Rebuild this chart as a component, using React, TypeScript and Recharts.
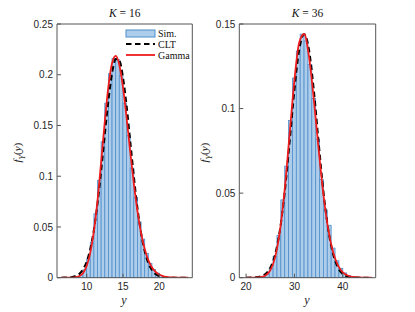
import React from "react";
import { ComposedChart, Bar, Line, XAxis, YAxis } from "recharts";

// K = 16 panel
const leftBins = [7.25, 7.75, 8.25, 8.75, 9.25, 9.75, 10.25, 10.75, 11.25, 11.75, 12.25, 12.75, 13.25, 13.75, 14.25, 14.75, 15.25, 15.75, 16.25, 16.75, 17.25, 17.75, 18.25, 18.75, 19.25, 19.75, 20.25, 20.75, 21.25];
const leftSim = [0, 0.0001, 0.0003, 0.001, 0.003, 0.0078, 0.018, 0.035, 0.063, 0.096, 0.134, 0.172, 0.201, 0.216, 0.215, 0.199, 0.172, 0.14, 0.108, 0.079, 0.055, 0.038, 0.024, 0.014, 0.008, 0.0045, 0.0022, 0.0011, 0.0005];
const leftX = [6.5, 7, 7.5, 8, 8.5, 9, 9.5, 10, 10.5, 11, 11.5, 12, 12.5, 13, 13.5, 14, 14.5, 15, 15.5, 16, 16.5, 17, 17.5, 18, 18.5, 19, 19.5, 20, 20.5, 21, 21.5, 22, 22.5, 23, 23.5, 24];
const leftClt = [0, 0.0001, 0.0003, 0.0007, 0.0018, 0.004, 0.0083, 0.0161, 0.0288, 0.0479, 0.074, 0.1062, 0.1416, 0.1753, 0.2017, 0.2155, 0.2139, 0.1973, 0.169, 0.1344, 0.0994, 0.0682, 0.0435, 0.0258, 0.0142, 0.0073, 0.0034, 0.0015, 0.0006, 0.0002, 0.0001, 0, 0, 0, 0, 0];
const leftGamma = [0, 0, 0, 0.0001, 0.0005, 0.0016, 0.0047, 0.0118, 0.0249, 0.0468, 0.0772, 0.1154, 0.1549, 0.1892, 0.2118, 0.2185, 0.2094, 0.1875, 0.1569, 0.1238, 0.0923, 0.0651, 0.0436, 0.028, 0.0171, 0.01, 0.0056, 0.0031, 0.0016, 0.0008, 0.0004, 0.0002, 0.0001, 0, 0, 0];

// K = 36 panel
const rightBins = [22, 22.8, 23.6, 24.4, 25.2, 26, 26.8, 27.6, 28.4, 29.2, 30, 30.8, 31.6, 32.4, 33.2, 34, 34.8, 35.6, 36.4, 37.2, 38, 38.8, 39.6, 40.4, 41.2, 42];
const rightSim = [0.0001, 0.0002, 0.0008, 0.0022, 0.0055, 0.0125, 0.025, 0.046, 0.066, 0.093, 0.118, 0.134, 0.144, 0.14, 0.126, 0.106, 0.082, 0.058, 0.04, 0.031, 0.0175, 0.01, 0.0055, 0.0028, 0.0013, 0.0005];
const rightX = [20, 21, 22, 23, 24, 25, 26, 27, 28, 29, 30, 31, 32, 33, 34, 35, 36, 37, 38, 39, 40, 41, 42, 43, 44, 45, 46];
const rightClt = [0, 0.0001, 0.0002, 0.0007, 0.0022, 0.0059, 0.0138, 0.0283, 0.0508, 0.0801, 0.111, 0.1349, 0.144, 0.1349, 0.111, 0.0801, 0.0508, 0.0283, 0.0138, 0.0059, 0.0022, 0.0007, 0.0002, 0.0001, 0, 0, 0];
const rightGamma = [0, 0, 0.0001, 0.0003, 0.0013, 0.0043, 0.012, 0.0278, 0.0527, 0.0849, 0.117, 0.1392, 0.1441, 0.131, 0.1055, 0.0759, 0.0489, 0.0284, 0.015, 0.0073, 0.0032, 0.0013, 0.0005, 0.0002, 0.0001, 0, 0];

const axisColor = "#555";
const barFill = "#adcdeb";
const barEdge = "#4f8ecb";
const tickFont = { fontSize: 10, fill: "#262626", fontFamily: "Liberation Sans, Arial, sans-serif" };
const serif = "'Liberation Serif', 'DejaVu Serif', serif";

type PanelProps = {
  bins: number[];
  sim: number[];
  cx: number[];
  clt: number[];
  gamma: number[];
  xDomain: [number, number];
  yDomain: [number, number];
  xTicks: number[];
  yTicks: number[];
  binPx: number;
  left: number;
  width: number;
  margin: { top: number; right: number; bottom: number; left: number };
  yAxisWidth: number;
};

const Panel: React.FC<PanelProps> = (p) => {
  const bars = p.bins.map((x, i) => ({ x, sim: p.sim[i] }));
  const curves = p.cx.map((x, i) => ({ x, clt: p.clt[i], gamma: p.gamma[i] }));
  // bins are drawn edge to edge, one bin width wide, centred on the bar slot
  const binShape = (props: any) => {
    const { x, y, width, height } = props;
    if (!height || height <= 0) return <g />;
    const c = x + width / 2;
    return <rect x={c - p.binPx / 2} y={y} width={p.binPx} height={height} fill={barFill} stroke={barEdge} strokeWidth={0.8} />;
  };
  return (
    <div style={{ position: "absolute", left: p.left, top: 0 }}>
      <ComposedChart width={p.width} height={312} data={bars} margin={p.margin}>
        <XAxis
          dataKey="x"
          type="number"
          domain={p.xDomain}
          ticks={p.xTicks}
          allowDataOverflow
          height={20}
          tickSize={-4}
          tickMargin={9}
          tick={tickFont}
          stroke={axisColor}
        />
        <XAxis xAxisId="top" dataKey="x" orientation="top" type="number" domain={p.xDomain} ticks={p.xTicks} allowDataOverflow height={1} tickSize={-4} tick={false} stroke={axisColor} />
        <YAxis
          type="number"
          domain={p.yDomain}
          ticks={p.yTicks}
          allowDataOverflow
          width={p.yAxisWidth}
          tickSize={-4}
          tickMargin={8}
          tick={tickFont}
          tickFormatter={(v: number) => String(+v.toFixed(2))}
          stroke={axisColor}
        />
        <YAxis yAxisId="right" orientation="right" type="number" domain={p.yDomain} ticks={p.yTicks} allowDataOverflow width={1} tickSize={-4} tick={false} stroke={axisColor} />
        <Bar dataKey="sim" barSize={2} shape={binShape} isAnimationActive={false} />
        <Line data={curves} xAxisId="top" yAxisId="right" dataKey="clt" stroke="none" dot={false} legendType="none" isAnimationActive={false} />
        <Line data={curves} dataKey="clt" type="monotone" stroke="#000" strokeWidth={2} strokeDasharray="5.5 3.5" dot={false} isAnimationActive={false} />
        <Line data={curves} dataKey="gamma" type="monotone" stroke="#ee1c1c" strokeWidth={1.8} dot={false} isAnimationActive={false} />
      </ComposedChart>
    </div>
  );
};

const Title: React.FC<{ k: number; cx: number }> = ({ k, cx }) => (
  <div style={{ position: "absolute", left: cx - 40, top: 7, width: 80, textAlign: "center", fontFamily: serif, fontSize: 11.5, color: "#111", whiteSpace: "nowrap" }}>
    <i>K</i> = {k}
  </div>
);

const YLabel: React.FC<{ cx: number }> = ({ cx }) => (
  <div style={{ position: "absolute", left: cx - 30, top: 143, width: 60, textAlign: "center", transform: "rotate(-90deg)", fontFamily: serif, fontSize: 11, color: "#222", whiteSpace: "nowrap", lineHeight: "14px" }}>
    <i>f</i>
    <sub style={{ fontSize: 8 }}>
      <i>Y</i>
    </sub>
    (<i>y</i>)
  </div>
);

const XLabel: React.FC<{ cx: number }> = ({ cx }) => (
  <div style={{ position: "absolute", left: cx - 10, top: 293, width: 20, textAlign: "center", fontFamily: serif, fontSize: 12, color: "#222", lineHeight: "14px" }}>
    <i>y</i>
  </div>
);

const LegendBox: React.FC = () => (
  <svg style={{ position: "absolute", left: 120, top: 26 }} width={75} height={36}>
    <rect x={6} y={4} width={29} height={7} fill={barFill} stroke={barEdge} strokeWidth={1} />
    <text x={38} y={11} fontFamily={serif} fontSize={10} fill="#111">Sim.</text>
    <line x1={6} x2={35} y1={18} y2={18} stroke="#000" strokeWidth={2} strokeDasharray="5.5 3.5" />
    <text x={38} y={21.5} fontFamily={serif} fontSize={10} fill="#111">CLT</text>
    <line x1={6} x2={35} y1={29} y2={29} stroke="#ee1c1c" strokeWidth={1.8} />
    <text x={38} y={32.5} fontFamily={serif} fontSize={10} fill="#111">Gamma</text>
  </svg>
);

export default function App() {
  return (
    <div style={{ position: "absolute", left: 0, top: 0, width: 415, height: 312, background: "#fff", overflow: "hidden" }}>
      <Panel
        bins={leftBins}
        sim={leftSim}
        cx={leftX}
        clt={leftClt}
        gamma={leftGamma}
        xDomain={[5.9, 24.55]}
        yDomain={[0, 0.25]}
        xTicks={[10, 15, 20]}
        yTicks={[0, 0.05, 0.1, 0.15, 0.2, 0.25]}
        binPx={3.63}
        left={0}
        width={200}
        margin={{ top: 23, right: 6.7, bottom: 14.3, left: 17 }}
        yAxisWidth={40}
      />
      <Panel
        bins={rightBins}
        sim={rightSim}
        cx={rightX}
        clt={rightClt}
        gamma={rightGamma}
        xDomain={[18.6, 46.8]}
        yDomain={[0, 0.15]}
        xTicks={[20, 30, 40]}
        yTicks={[0, 0.05, 0.1, 0.15]}
        binPx={3.87}
        left={200}
        width={215}
        margin={{ top: 23, right: 38.3, bottom: 14.3, left: 9.3 }}
        yAxisWidth={30}
      />
      <Title k={16} cx={124.7} />
      <Title k={36} cx={307.5} />
      <YLabel cx={20} />
      <YLabel cx={207} />
      <XLabel cx={124} />
      <XLabel cx={307} />
      <LegendBox />
    </div>
  );
}
